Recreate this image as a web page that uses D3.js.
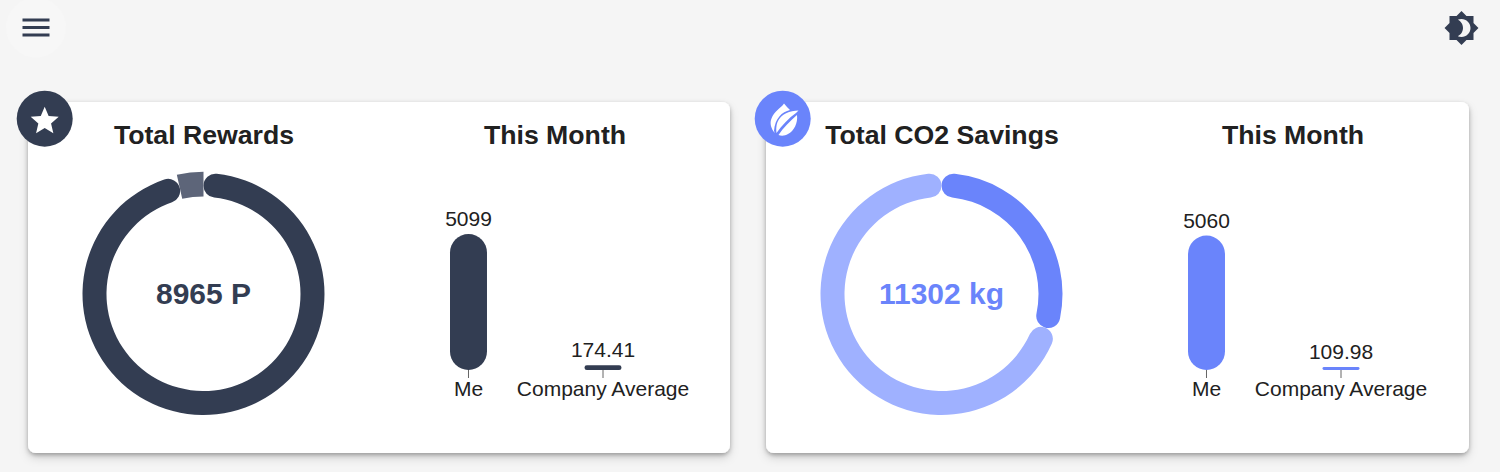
<!DOCTYPE html>
<html><head><meta charset="utf-8">
<script src="https://cdn.jsdelivr.net/npm/d3@7"></script>
<style>
html,body{margin:0;padding:0;background:#f5f5f5;overflow:hidden}
svg{display:block}
text{font-family:"Liberation Sans",Arial,sans-serif;fill:#212121}
</style></head><body><svg id="c" width="1500" height="472"></svg>
<script>
const rewardsRing = [8651, 314];
const rewardsBars = [5099, 174.41];
const co2Ring = [3390, 7912];
const co2Bars = [5060, 109.98];
const barCategories = ["Me", "Company Average"];
const rewardsTitle = "Total Rewards";
const co2Title = "Total CO2 Savings";
const monthTitle = "This Month";
const rewardsCentre = "8965 P";
const co2Centre = "11302 kg";

const svg = d3.select("#c");
const defs = svg.append("defs");
function shadow(id,dy,sd,op){
  const f = defs.append("filter").attr("id",id).attr("x","-6%").attr("y","-10%").attr("width","112%").attr("height","125%");
  f.append("feDropShadow").attr("dx",0).attr("dy",dy).attr("stdDeviation",sd).attr("flood-color","#000").attr("flood-opacity",op);
}
shadow("sh1",2,2,0.28);
shadow("sh2",5,5,0.14);

// top bar
svg.append("circle").attr("cx",36).attr("cy",27.5).attr("r",30).attr("fill","#f7f7f7");
svg.append("path").attr("transform","translate(18,9.5) scale(1.5)").attr("fill","#333d52")
  .attr("d","M3 18h18v-2H3v2zm0-5h18v-2H3v2zm0-7v2h18V6H3z");
svg.append("path").attr("transform","translate(1443.5,10) scale(1.5)").attr("fill","#333d52").attr("fill-rule","evenodd")
  .attr("d","M20 8.69V4h-4.69L12 .69 8.69 4H4v4.69L.69 12 4 15.31V20h4.69L12 23.31 15.31 20H20v-4.69L23.31 12 20 8.69zM12 18c-.89 0-1.74-.2-2.5-.55C11.56 16.5 13 14.42 13 12s-1.44-4.5-3.5-5.45C10.26 6.2 11.11 6 12 6c3.31 0 6 2.69 6 6s-2.69 6-6 6z");

function card(o){
  const g = svg.append("g");
  ["sh2","sh1"].forEach(s=>g.append("rect").attr("x",o.x).attr("y",102).attr("width",o.w).attr("height",351).attr("rx",8).attr("fill","#fff").attr("filter",`url(#${s})`));
  g.append("text").attr("x",o.tx).attr("y",143.5).attr("text-anchor","middle").attr("font-size",26.67).attr("font-weight",700).text(o.title);
  g.append("text").attr("x",o.mx).attr("y",143.5).attr("text-anchor","middle").attr("font-size",26.67).attr("font-weight",700).text(monthTitle);

  const pie = d3.pie().sort(null).value(d=>d)(o.ring);
  const ringG = g.append("g").attr("transform",`translate(${o.cx},294)`);
  const arc = d3.arc().innerRadius(97).outerRadius(121);
  const flat = d3.arc().innerRadius(97.5).outerRadius(122.2);
  ringG.selectAll("path").data(pie).join("path")
    .attr("fill",(d,i)=>o.ringColors[i])
    .attr("d",(d,i)=>(o.flatSecond&&i===1)?flat(d):arc.cornerRadius(12)(d));
  g.append("text").attr("x",o.cx).attr("y",303.5).attr("text-anchor","middle").attr("font-size",30).attr("font-weight",700).style("fill",o.centreColor).text(o.centre);

  const x = d3.scaleBand().domain(barCategories).range(o.xr).paddingInner(0.725).paddingOuter(0);
  const y = d3.scaleLinear().domain([0,o.max]).range([370,234]);
  g.selectAll(null).data(barCategories).join("line")
    .attr("x1",d=>x(d)+x.bandwidth()/2).attr("x2",d=>x(d)+x.bandwidth()/2)
    .attr("y1",370).attr("y2",378).attr("stroke","#666");
  g.selectAll(null).data(o.bars).join("rect")
    .attr("x",(d,i)=>x(barCategories[i])).attr("width",x.bandwidth())
    .attr("y",d=>y(d)).attr("height",d=>y(0)-y(d))
    .attr("rx",d=>Math.min(18.5,(y(0)-y(d))/2)).attr("fill",o.color);
  g.selectAll(null).data(o.bars).join("text")
    .attr("x",(d,i)=>x(barCategories[i])+x.bandwidth()/2).attr("y",d=>y(d)-8)
    .attr("text-anchor","middle").attr("font-size",21).text(d=>d);
  g.selectAll(null).data(barCategories).join("text")
    .attr("x",d=>x(d)+x.bandwidth()/2).attr("y",396)
    .attr("text-anchor","middle").attr("font-size",21).text(d=>d);
  g.append("circle").attr("cx",o.ix).attr("cy",118.7).attr("r",28).attr("fill",o.color);
  return g;
}
const g1 = card({x:28,w:702,tx:204,mx:555,title:rewardsTitle,cx:203.5,ring:rewardsRing,ringColors:["#333d52","#5d6579"],flatSecond:true,
  centre:rewardsCentre,centreColor:"#333d52",bars:rewardsBars,max:5099,xr:[450,621.5],color:"#333d52",ix:44.7});
const g2 = card({x:766,w:703,tx:942,mx:1293,title:co2Title,cx:941.5,ring:co2Ring,ringColors:["#6a84fb","#9fb1ff"],flatSecond:false,
  centre:co2Centre,centreColor:"#6a84fb",bars:co2Bars,max:5120,xr:[1188,1359.5],color:"#6a84fb",ix:782.7});
g1.append("path").attr("transform","translate(27.9,103.9) scale(1.4)").attr("fill","#fff")
  .attr("d","M12 17.27L18.18 21l-1.64-7.03L22 9.24l-7.19-.61L12 2 9.19 8.63 2 9.24l5.46 4.73L5.82 21z");
const leaf = g2.append("g").attr("fill","#fff");
leaf.append("path").attr("d","M784 103.5C786 106 788 108 790 110C782 112 775 118 774 131L775 133C771 129 769.5 123 771.5 118.5C774 111 781 108 784 103.5Z");
leaf.append("path").attr("d","M798.5 110.5C790 110.5 781 114 777.5 122C776 126 776 130 776.5 133C782 125 789 118 796 113Z");
leaf.append("path").attr("d","M797 115C798 123 794 131 788 134C785 136 781 136 778.5 135C783 128 790 121 797 115Z");
</script></body></html>
